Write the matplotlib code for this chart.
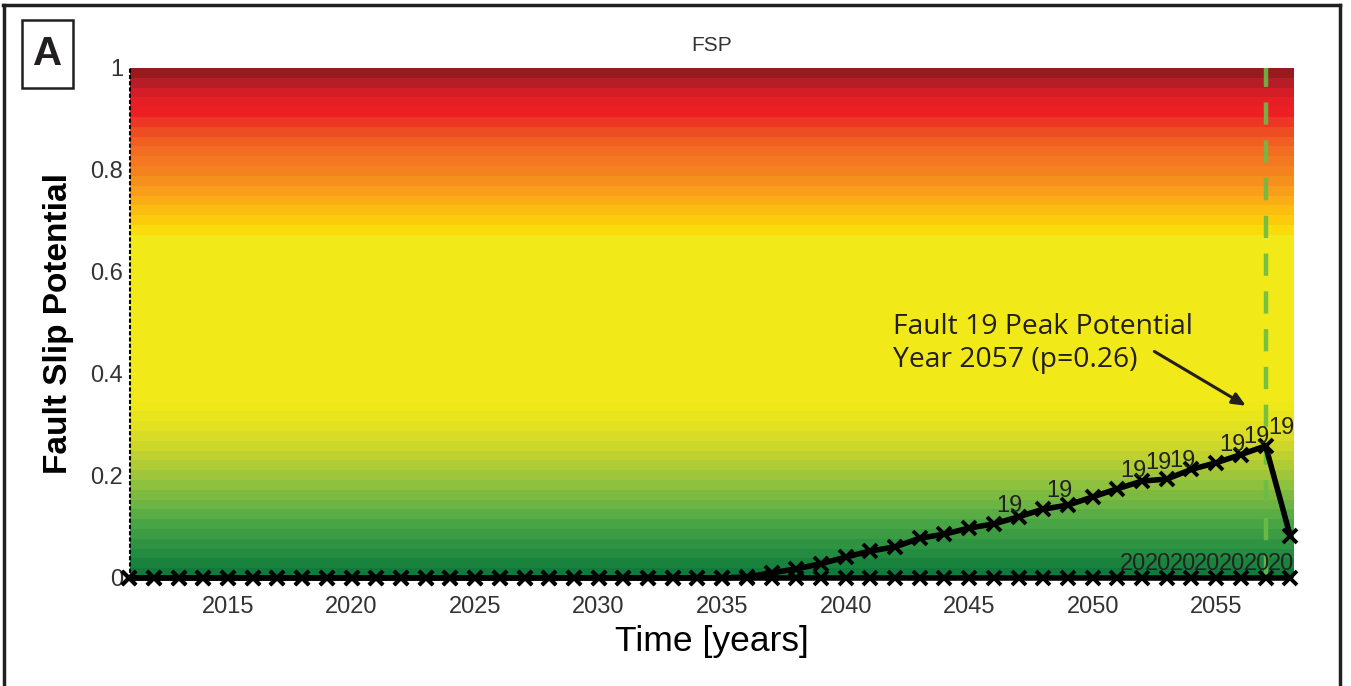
import numpy as np
import matplotlib
matplotlib.use("Agg")
import matplotlib.pyplot as plt
import matplotlib.transforms as mtransforms
from matplotlib.colors import LinearSegmentedColormap
from matplotlib.lines import Line2D
from matplotlib.patches import Rectangle

# data
years = list(range(2011, 2059))
fault19 = [0.0] * 25 + [0.002, 0.010, 0.018, 0.028, 0.041, 0.053, 0.061, 0.078, 0.086, 0.098,
                        0.106, 0.120, 0.135, 0.143, 0.159, 0.175, 0.190, 0.194, 0.213, 0.226,
                        0.242, 0.259, 0.082]
fault20 = [0.0] * len(years)
label19_years = [2046, 2048, 2051, 2052, 2053, 2055, 2056, 2057]
label20_years = [2051, 2052, 2053, 2054, 2055, 2056, 2057, 2058]
yticks = [0, 0.2, 0.4, 0.6, 0.8, 1]
ytick_labels = ["0", "0.2", "0.4", "0.6", "0.8", "1"]
xticks = [2015, 2020, 2025, 2030, 2035, 2040, 2045, 2050, 2055]
peak_year = 2057
peak_p = 0.26

plt.rcParams['font.family'] = ['Liberation Sans', 'DejaVu Sans']

fig = plt.figure(figsize=(13.51, 6.86), dpi=100)
ax = fig.add_axes([130/1351, 1-578/686, (1294-130)/1351, (578-68)/686])

xmin, xmax = 2011.03, 2058.15

# banded background gradient (green -> yellow -> red)
anchors = [(0.00, "#0f7a3c"), (0.05, "#2a9142"), (0.10, "#4aa646"), (0.15, "#78ba42"),
           (0.20, "#a3c83a"), (0.25, "#cbd62c"), (0.30, "#e6e31f"), (0.34, "#f1e918"),
           (0.67, "#f2e918"), (0.69, "#fdd80a"), (0.72, "#fcc20f"), (0.76, "#f9a21a"),
           (0.80, "#f5861f"), (0.85, "#f16a22"), (0.89, "#ee4624"), (0.92, "#ed1f24"),
           (0.95, "#e41f26"), (0.975, "#c01e29"), (1.0, "#981a1e")]
cmap = LinearSegmentedColormap.from_list("fsp", anchors, N=52)
grad = np.linspace(0, 1, 52).reshape(-1, 1)
ax.imshow(grad, cmap=cmap, extent=[xmin, xmax, 0, 1], origin="lower",
          aspect="auto", interpolation="nearest", zorder=0)

# peak marker line
ax.axvline(peak_year, color="#6abd45", lw=3.2, dashes=(5, 3.5), alpha=0.9, zorder=2)

# series
mk = dict(marker="x", ms=10, mew=2.8, color="black", lw=4, zorder=4, clip_on=False)
ax.plot(years, fault20, **mk)
ax.plot(years, fault19, **mk)

off19 = mtransforms.offset_copy(ax.transData, fig=fig, x=2, y=5, units="points")
off20 = mtransforms.offset_copy(ax.transData, fig=fig, x=2, y=2, units="points")
for yr in label19_years:
    v = fault19[years.index(yr)]
    ax.text(yr, v, "19", transform=off19, fontsize=17, color="#222222",
            ha="left", va="bottom", zorder=5)
for yr in label20_years:
    v = fault20[years.index(yr)]
    ax.text(yr, v, "20", transform=off20, fontsize=17, color="#222222",
            ha="left", va="bottom", zorder=5, clip_on=True)

# annotation of the peak
ax.text(2041.9, 0.46, "Fault 19 Peak Potential\nYear %d (p=%.2f)" % (peak_year, peak_p),
        fontsize=20.3, family=["Open Sans", "DejaVu Sans"], color="#231f20",
        ha="left", va="center", linespacing=1.2, zorder=6)
ax.annotate("", xy=(2056.3, 0.335), xytext=(2052.4, 0.447),
            arrowprops=dict(arrowstyle="-|>,head_length=0.8,head_width=0.35",
                            color="#231f20", lw=2.2), zorder=6)

ax.set_xlim(xmin, xmax)
ax.set_ylim(0, 1)
ax.set_xticks(xticks)
ax.set_yticks(yticks)
ax.set_yticklabels(ytick_labels)
ax.tick_params(axis="both", length=0, labelsize=17, colors="#333333")
ax.tick_params(axis="x", pad=13)
ax.tick_params(axis="y", pad=5)
for s in ["top", "right", "bottom"]:
    ax.spines[s].set_visible(False)
ax.spines["left"].set_linestyle((0, (1, 2)))
ax.spines["left"].set_linewidth(1.5)

ax.set_title("FSP", fontsize=15, color="#333333", pad=12)
ax.set_ylabel("Fault Slip Potential", fontsize=24, fontweight="bold", labelpad=12)
ax.set_xlabel("Time [years]", fontsize=25.5, labelpad=5)

# outer panel frame and panel letter
fig.add_artist(Line2D([3/1351, 1340/1351], [1-5/686, 1-5/686], color="#231f20", lw=2.5))
fig.add_artist(Line2D([4/1351, 4/1351], [0, 1-5/686], color="#231f20", lw=2.5))
fig.add_artist(Line2D([1340/1351, 1340/1351], [0, 1-5/686], color="#231f20", lw=2.5))
fig.add_artist(Rectangle((22/1351, 1-88/686), 51/1351, 68/686, transform=fig.transFigure,
                         fill=False, ec="#231f20", lw=1.8))
fig.text(48/1351, 1-54/686, "A", fontsize=29, fontweight="bold", ha="center", va="center",
         color="#231f20")

fig.savefig("out.png", dpi=100)
